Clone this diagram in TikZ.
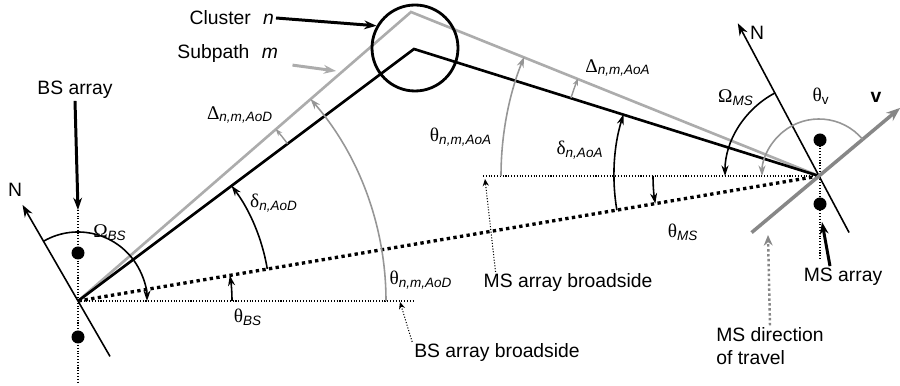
\documentclass[tikz,border=0pt]{standalone}
\usepackage{fontspec}
\setmainfont{Liberation Sans}
\newfontfamily\grk{Liberation Serif}
\usetikzlibrary{arrows.meta, positioning, calc}
\definecolor{pathgray}{RGB}{172,172,172}
\definecolor{arcgray}{RGB}{150,150,150}
\definecolor{vgray}{RGB}{135,135,135}
\newcommand{\lsub}[1]{\textsubscript{\itshape #1}}

\begin{document}
\begin{tikzpicture}[
    x=0.2mm, y=0.2mm,
    lbl/.style={font=\fontsize{11}{13}\selectfont, inner sep=1pt},
    ray/.style={line width=1.5pt, line join=miter},
    nline/.style={-{Stealth[length=7pt,width=5pt]}, line width=0.9pt},
    angarc/.style={-{Stealth[length=6pt,width=4pt]}, line width=0.9pt},
    deltarc/.style={-{Stealth[length=4pt,width=3pt]}, line width=0.8pt, arcgray},
    pointer/.style={-{Stealth[length=7pt,width=5pt]}, line width=1.7pt},
    fineline/.style={line width=0.6pt, dash pattern=on 0.6pt off 1pt},
    dot/.style={circle, fill=black, minimum size=2.6mm, inner sep=0pt}
]
    \useasboundingbox (0,0) rectangle (900,386);

    % Array positions and path corners
    \coordinate (BS) at (78,85);
    \coordinate (MS) at (819,210);
    \coordinate (bend) at (414,337);
    \coordinate (sub) at (411,374);

    % Broadside and vertical reference lines
    \coordinate (bsb) at (413,85);
    \coordinate (msb) at (483,210);
    \coordinate (bsv) at (78,176);
    \draw[fineline] (BS) -- (bsb);
    \draw[fineline] (msb) -- (MS);
    \draw[fineline] (bsv) -- (78,4);
    \draw[fineline] (820,246) -- (820,126);

    % Element dots
    \node[dot] (bsup) at (78,133) {};
    \node[dot] (bslo) at (78,49) {};
    \node[dot] (msup) at (820,246) {};
    \node[dot] (mslo) at (820,182) {};

    % Line of sight
    \draw[line width=1.9pt, dash pattern=on 1.9pt off 1.9pt] (BS) -- (MS);

    % Subpath (gray) and cluster path (black)
    \draw[ray, pathgray] (BS) -- (sub) -- (MS);
    \draw[ray] (BS) -- (bend) -- (MS);
    \node[draw, circle, line width=1.6pt, minimum size=17.2mm, inner sep=0pt] (clu) at (415,338) {};

    % North directions
    \draw[nline] ($(BS)+(-60:64)$) -- ($(BS)+(120:111)$);
    \node[lbl] (nbs) at (15,196) {N};
    \draw[nline] ($(MS)+(-62:64)$) -- ($(MS)+(118:173)$);
    \node[lbl] (nms) at (757,353) {N};

    % Velocity
    \draw[-{Stealth[length=8pt,width=6pt]}, line width=2pt, vgray] ($(MS)+(220:88)$) -- ($(MS)+(40:106)$);
    \node[lbl, font=\fontsize{11}{13}\selectfont\bfseries] (vlbl) at (876,289) {v};

    % Angles at the BS
    \draw[angarc] ($(BS)+(120:69)$) arc[start angle=120, end angle=0, radius=69];
    \draw[angarc] ($(BS)+(0:154)$) arc[start angle=0, end angle=9.6, radius=154];
    \draw[angarc] ($(BS)+(9.6:192)$) arc[start angle=9.6, end angle=36.9, radius=192];
    \draw[angarc, arcgray] ($(BS)+(0:308)$) arc[start angle=0, end angle=41, radius=308];
    \draw[deltarc] ($(BS)+(36.9:262)$) arc[start angle=36.9, end angle=41, radius=262];

    % Angles at the MS
    \draw[angarc] ($(MS)+(118:94)$) arc[start angle=118, end angle=180, radius=94];
    \draw[angarc, arcgray] ($(MS)+(40:57)$) arc[start angle=40, end angle=180, radius=57];
    \draw[angarc] ($(MS)+(180:166)$) arc[start angle=180, end angle=189.6, radius=166];
    \draw[angarc] ($(MS)+(189.6:205)$) arc[start angle=189.6, end angle=162.5, radius=205];
    \draw[angarc, arcgray] ($(MS)+(180:318)$) arc[start angle=180, end angle=158, radius=318];
    \draw[deltarc] ($(MS)+(162.5:260)$) arc[start angle=162.5, end angle=158, radius=260];

    % Angle labels
    \node[lbl] (omegabs) at (110,153) {{\grk Ω}\lsub{BS}};
    \node[lbl] (thetabs) at (248,69) {{\grk θ}\lsub{BS}};
    \node[lbl] (deltaaod) at (274,183) {{\grk δ}\lsub{n,AoD}};
    \node[lbl] (Deltaaod) at (240,271) {{\grk Δ}\lsub{n,m,AoD}};
    \node[lbl] (thetaaod) at (421,106) {{\grk θ}\lsub{n,m,AoD}};
    \node[lbl] (thetaaoa) at (461,249) {{\grk θ}\lsub{n,m,AoA}};
    \node[lbl] (deltaaoa) at (580,236) {{\grk δ}\lsub{n,AoA}};
    \node[lbl] (Deltaaoa) at (618,318) {{\grk Δ}\lsub{n,m,AoA}};
    \node[lbl] (omegams) at (736,288) {{\grk Ω}\lsub{MS}};
    \node[lbl] (thetav) at (821,290) {{\grk θ}\textsubscript{v}};
    \node[lbl] (thetams) at (683,154) {{\grk θ}\lsub{MS}};

    % Pointer labels
    \node[lbl, anchor=east] (clusterlbl) at (276,368) {Cluster\hspace{7pt}\textit{n}};
    \draw[pointer] (clusterlbl.east) -- (clu.150);
    \node[lbl, anchor=east] (subpathlbl) at (280,332) {Subpath\hspace{7pt}\textit{m}};
    \coordinate (subtip) at (336,315);
    \draw[pointer, pathgray] ([xshift=2.5mm]subpathlbl.south east) -- (subtip);

    \node[lbl] (bsarray) at (75,296) {BS array};
    \draw[pointer] (bsarray.south) -- (bsv);
    \node[lbl] (msarray) at (843,109) {MS array};
    \coordinate (msvtip) at (822,164);
    \draw[pointer] ([xshift=-2.6mm]msarray.north) -- (msvtip);

    \node[lbl, align=left] (mstravel) at (770,40) {MS direction\\of travel};
    \coordinate (travtip) at (768,151);
    \draw[-{Stealth[length=6pt,width=5pt]}, line width=1.4pt, dash pattern=on 1.4pt off 1.4pt, vgray] (mstravel.north) -- (travtip);

    \node[lbl] (msbroad) at (568,103) {MS array broadside};
    \coordinate (msbtip) at (485,207);
    \draw[fineline, -{Stealth[length=4pt,width=3.5pt]}] ([xshift=2.8mm]msbroad.north west) -- (msbtip);
    \node[lbl] (bsbroad) at (497,33) {BS array broadside};
    \coordinate (bsbtip) at (400,84);
    \draw[fineline, -{Stealth[length=4pt,width=3.5pt]}] (bsbroad.north west) -- (bsbtip);
\end{tikzpicture}
\end{document}
